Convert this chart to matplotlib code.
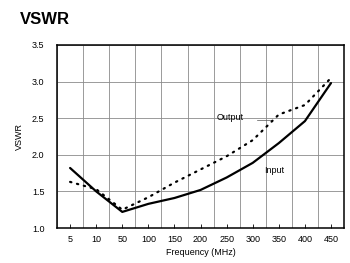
import matplotlib
matplotlib.use("Agg")
import matplotlib.pyplot as plt

plt.rcParams['font.family'] = ['Liberation Sans', 'DejaVu Sans']

# Frequency categories (MHz), evenly spaced on the chart
freqs = ["5", "10", "50", "100", "150", "200", "250", "300", "350", "400", "450"]

# VSWR values
vswr_input = [1.82, 1.50, 1.22, 1.33, 1.41, 1.52, 1.69, 1.89, 2.16, 2.46, 2.98]
vswr_output = [1.63, 1.53, 1.25, 1.42, 1.62, 1.80, 1.98, 2.20, 2.55, 2.68, 3.05]

yticks = [1.0, 1.5, 2.0, 2.5, 3.0, 3.5]

fig = plt.figure(figsize=(3.5, 2.63), dpi=100)
ax = fig.add_axes([0.163, 0.133, 0.82, 0.696])

x = list(range(len(freqs)))

# grid lines sit on the cell boundaries, labels in the cell centres
for b in range(len(freqs) + 1):
    ax.axvline(b - 0.5, color="#8a8a8a", lw=0.6, zorder=1)
for yv in yticks:
    ax.axhline(yv, color="#8a8a8a", lw=0.6, zorder=1)

ax.plot(x, vswr_input, color="black", lw=1.6, solid_capstyle="round", zorder=3)
ax.plot(x, vswr_output, color="black", lw=1.6, linestyle=(0, (0.6, 2.6)),
        dash_capstyle="round", zorder=3)

ax.text(5.6, 2.51, "Output", fontsize=6.5, va="center", ha="left")
ax.plot([7.15, 7.75], [2.48, 2.48], color="#555555", lw=0.5)
ax.text(7.45, 1.78, "Input", fontsize=6.5, va="center", ha="left")

ax.set_xlim(-0.5, len(freqs) - 0.5)
ax.set_ylim(1.0, 3.5)
ax.set_xticks(x)
ax.set_xticklabels(freqs)
ax.set_yticks(yticks)
ax.set_yticklabels([f"{v:.1f}" for v in yticks])
ax.tick_params(axis="x", direction="in", length=3, width=0.6, pad=5, labelsize=6.5)
ax.tick_params(axis="y", length=0, pad=9, labelsize=6.5)
for s in ax.spines.values():
    s.set_linewidth(1.1)

ax.set_xlabel("Frequency (MHz)", fontsize=6.5, labelpad=3)
ax.set_ylabel("VSWR", fontsize=6.5, labelpad=6)

fig.text(20 / 350, 1 - 19 / 263, "VSWR", fontsize=12, fontweight="bold", va="center", ha="left")

fig.savefig("out.png", dpi=100)
